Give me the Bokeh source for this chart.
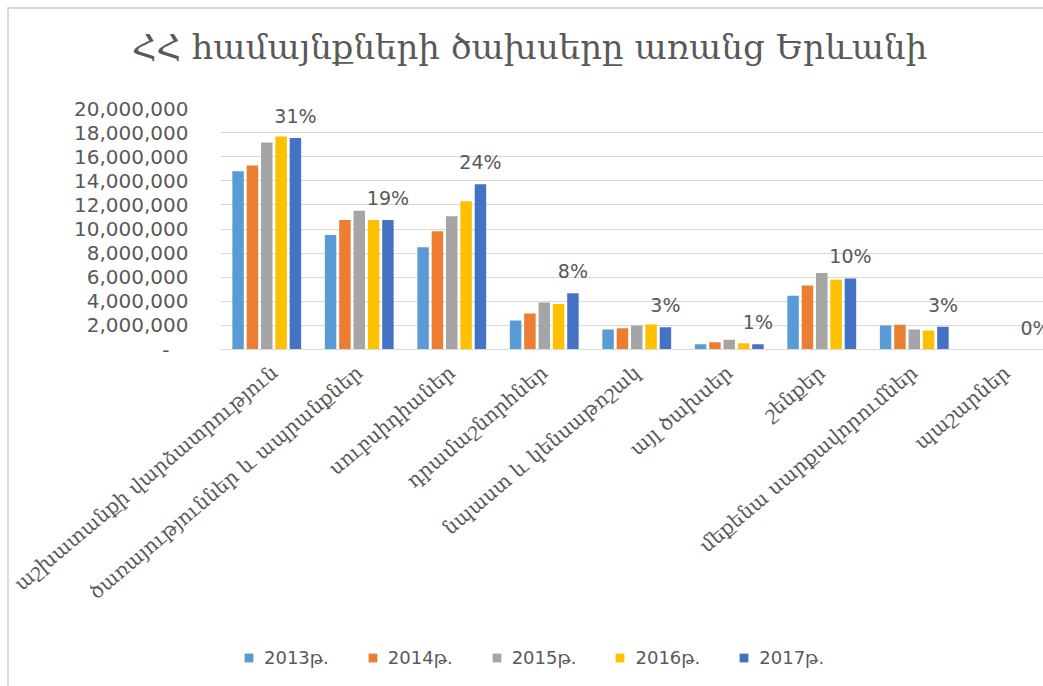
from bokeh.plotting import figure
from bokeh.layouts import column
from bokeh.models import (Range1d, FixedTicker, CustomJSTickFormatter, Legend, LegendItem,
                          ColumnDataSource, Label)
from bokeh.transform import dodge
from bokeh.core.properties import value
from bokeh.embed import file_html
from bokeh.resources import INLINE

title_text = "ՀՀ համայնքների ծախսերը առանց Երևանի"
categories = ["աշխատանքի վարձատրություն", "ծառայություններ և ապրանքներ", "սուբսիդիաներ",
              "դրամաշնորհներ", "նպաստ և կենսաթոշակ", "այլ ծախսեր", "շենքեր",
              "մեքենա սարքավորումներ", "պաշարներ"]
years = ["2013թ.", "2014թ.", "2015թ.", "2016թ.", "2017թ."]
v2013 = [14.80e6, 9.50e6, 8.48e6, 2.41e6, 1.66e6, 0.44e6, 4.46e6, 2.00e6, 0]
v2014 = [15.26e6, 10.75e6, 9.81e6, 2.99e6, 1.77e6, 0.61e6, 5.32e6, 2.05e6, 0]
v2015 = [17.17e6, 11.52e6, 11.06e6, 3.91e6, 2.00e6, 0.80e6, 6.34e6, 1.66e6, 0]
v2016 = [17.67e6, 10.75e6, 12.30e6, 3.77e6, 2.08e6, 0.52e6, 5.79e6, 1.58e6, 0]
v2017 = [17.56e6, 10.75e6, 13.72e6, 4.66e6, 1.85e6, 0.44e6, 5.90e6, 1.88e6, 0]
shares = ["31%", "19%", "24%", "8%", "3%", "1%", "10%", "3%", "0%"]
y_ticks = [0, 2e6, 4e6, 6e6, 8e6, 10e6, 12e6, 14e6, 16e6, 18e6, 20e6]

colors = ["#5B9BD5", "#ED7D31", "#A5A5A5", "#FFC000", "#4472C4"]
offsets = [-0.31, -0.155, 0.0, 0.155, 0.31]
keys = ["v2013", "v2014", "v2015", "v2016", "v2017"]

src = ColumnDataSource(dict(x=[i + 0.5 for i in range(len(categories))],
                            v2013=v2013, v2014=v2014, v2015=v2015, v2016=v2016, v2017=v2017,
                            share=shares))

GRAY = "#595959"
SANS = "DejaVu Sans"
SERIF = "DejaVu Serif"
W = 1034

# ---- title strip ----
pt = figure(width=W, height=78, output_backend="svg", toolbar_location=None,
            x_range=Range1d(0, 1), y_range=Range1d(0, 1),
            x_axis_location=None, y_axis_location=None, min_border=0)
pt.outline_line_color = None
pt.grid.visible = False

# ---- main chart ----
p = figure(width=W, height=543, output_backend="svg", toolbar_location=None,
           x_range=Range1d(0, 8.897), y_range=Range1d(0, 20e6),
           min_border_left=211, min_border_right=0, min_border_top=21, min_border_bottom=281)
p.outline_line_color = None

# ---- legend strip ----
pl = figure(width=W, height=56, output_backend="svg", toolbar_location=None,
            x_range=Range1d(0, 9), y_range=Range1d(1, 2),
            x_axis_location=None, y_axis_location=None, min_border=0)
pl.outline_line_color = None
pl.grid.visible = False

FA = "frame_align" in pt.properties()
if FA:
    for fig in (pt, p, pl):
        fig.frame_align = False
    title_x, legend_x = 0.503, 234
else:
    title_x, legend_x = 0.3755, 23

pt.add_layout(Label(x=title_x, y=0.52, text=title_text, text_align="center",
                    text_baseline="middle", text_font=SERIF, text_font_size="34px",
                    text_color=GRAY))

for col, off, key in zip(colors, offsets, keys):
    p.vbar(x=dodge("x", off), top=key, width=0.124, source=src, color=col, line_color=None)

p.text(x=dodge("x", 0.31), y="v2017", text="share", source=src, text_align="center",
       text_baseline="middle", y_offset=-22, text_font=value(SANS), text_font_size="19px",
       text_color=GRAY)

p.yaxis.ticker = FixedTicker(ticks=y_ticks)
p.ygrid.ticker = FixedTicker(ticks=y_ticks)
p.yaxis.formatter = CustomJSTickFormatter(code="""
    if (tick == 0) { return "-\u00a0\u00a0\u00a0"; }
    return Math.round(tick).toLocaleString('en-US');
""")
p.yaxis.axis_line_color = None
p.yaxis.major_tick_line_color = None
p.yaxis.minor_tick_line_color = None
p.yaxis.major_label_standoff = 26
p.yaxis.major_label_text_font = SANS
p.yaxis.major_label_text_font_size = "20px"
p.yaxis.major_label_text_color = GRAY

p.xaxis.ticker = FixedTicker(ticks=[i + 0.5 for i in range(len(categories))])
p.xaxis.formatter = CustomJSTickFormatter(args=dict(labels=categories),
                                          code="return labels[Math.floor(tick)];")
p.xaxis.axis_line_color = "#d9d9d9"
p.xaxis.major_tick_line_color = None
p.xaxis.minor_tick_line_color = None
p.xaxis.major_label_orientation = 0.70
p.xaxis.major_label_standoff = 14
p.xaxis.major_label_text_font = SERIF
p.xaxis.major_label_text_font_size = "20px"
p.xaxis.major_label_text_color = GRAY

p.xgrid.grid_line_color = None
p.ygrid.grid_line_color = "#d9d9d9"
p.ygrid.grid_line_width = 1

# legend proxies: zero-height bars that sit outside the strip's visible range
leg_r = []
for col, off in zip(colors, offsets):
    leg_r.append(pl.vbar(x=dodge("x", off), top=0, bottom=0, width=0.124, source=src,
                         color=col, line_color=None))
legend = Legend(items=[LegendItem(label=yr, renderers=[r]) for yr, r in zip(years, leg_r)],
                orientation="horizontal", location=(legend_x, 18))
legend.glyph_width = 11
legend.glyph_height = 11
legend.label_text_font = SANS
legend.label_text_font_size = "18px"
legend.label_text_color = GRAY
legend.label_standoff = 10
legend.label_height = 20
legend.spacing = 38
legend.border_line_color = None
legend.background_fill_alpha = 0
legend.margin = 0
legend.padding = 0
pl.add_layout(legend, "center")

layout = column(pt, p, pl, spacing=0)
layout.margin = (9, 0, 0, 9)
layout.styles = {"outline": "2px solid #d9d9d9"}

open("out.html", "w").write(file_html(layout, INLINE))
